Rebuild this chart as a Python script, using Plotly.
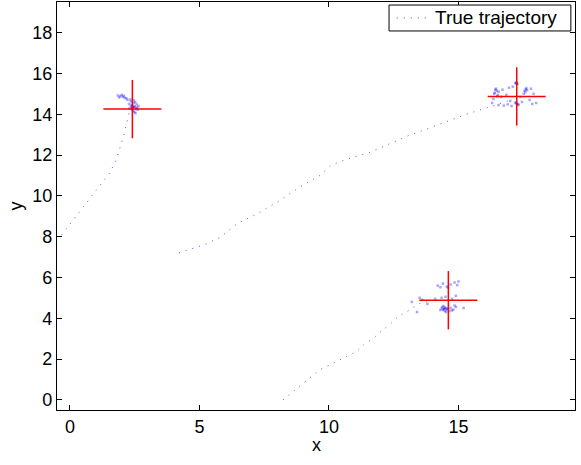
import plotly.graph_objects as go

# True trajectories (data coordinates)
traj1_x = [-0.32, 0.19, 0.69, 1.15, 1.54, 1.77, 1.92, 2.08, 2.19, 2.31, 2.40]
traj1_y = [8.09, 8.92, 9.76, 10.49, 11.13, 11.72, 12.31, 12.94, 13.58, 14.17, 14.35]

traj2_x = [4.21, 5.15, 5.78, 6.48, 7.22, 8.10, 8.94, 9.62, 10.10, 10.83, 11.58, 12.35, 13.09, 13.83, 14.60, 15.33, 16.34, 16.90]
traj2_y = [7.20, 7.59, 7.95, 8.65, 9.11, 9.77, 10.48, 10.97, 11.52, 11.85, 12.13, 12.57, 12.96, 13.30, 13.68, 14.01, 14.41, 14.65]

traj3_x = [8.23, 8.68, 9.00, 9.32, 9.64, 10.00, 10.35, 10.74, 11.08, 11.38, 11.70, 11.96, 12.31, 12.67, 12.97, 13.25, 13.50, 13.90]
traj3_y = [0.00, 0.46, 0.81, 1.14, 1.47, 1.68, 1.92, 2.17, 2.37, 2.74, 2.99, 3.31, 3.64, 4.08, 4.29, 4.53, 4.72, 4.90]

# Estimated positions (red crosses) and their half extents
est_x = [2.41, 17.25, 14.61]
est_y = [14.25, 14.87, 4.88]
half_x = [1.12, 1.12, 1.12]
half_y = [1.43, 1.43, 1.43]

# Particle clouds
c1x = [2.45, 2.40, 2.50, 2.38, 2.55, 2.42, 2.47, 2.35, 2.60, 2.52, 2.30, 2.44, 2.58, 2.36, 2.49, 2.41, 2.65, 2.28,
       2.53, 2.46, 2.39, 2.56, 2.43, 2.33, 2.62, 2.48, 1.85, 1.95, 2.05, 2.12, 1.90, 2.00, 2.18, 2.08, 2.22]
c1y = [14.35, 14.30, 14.40, 14.45, 14.25, 14.20, 14.55, 14.38, 14.32, 14.60, 14.28, 14.15, 14.48, 14.62, 14.10, 14.42,
       14.40, 14.50, 14.05, 14.68, 14.25, 14.30, 14.36, 14.72, 14.22, 14.34, 14.92, 14.88, 14.85, 14.80, 14.82, 14.95,
       14.78, 14.90, 14.70]

c2x = [16.40, 16.48, 16.52, 16.45, 16.38, 16.55, 16.50, 16.42, 17.22, 17.26, 17.24, 17.28, 17.20, 17.24, 17.30, 17.20,
       17.27, 17.22, 17.32, 17.55, 17.60, 17.58, 17.62, 17.52, 17.65, 16.30, 16.55, 16.75, 16.90, 17.05, 16.65, 16.85,
       17.45, 17.75, 17.85, 18.00, 17.90, 16.95, 17.10, 17.40, 16.70, 17.80, 16.35, 17.00]
c2y = [15.05, 15.15, 14.95, 15.25, 15.00, 15.10, 14.88, 15.20, 15.52, 15.50, 15.55, 15.48, 15.53, 14.52, 14.50, 14.55,
       14.48, 14.58, 14.45, 15.15, 15.22, 15.08, 15.28, 15.00, 15.18, 14.55, 14.45, 14.42, 14.48, 14.40, 14.85, 14.95,
       14.60, 14.70, 14.50, 14.55, 15.00, 15.30, 15.35, 14.85, 15.20, 15.25, 14.75, 14.65]

c3x = [14.45, 14.40, 14.50, 14.38, 14.55, 14.48, 14.35, 14.60, 14.42, 14.52, 14.70, 14.80, 14.90, 14.75, 14.85, 14.65,
       14.30, 14.47, 14.44, 14.58, 14.20, 14.40, 14.55, 14.70, 14.85, 14.60, 14.30, 14.95, 14.35, 14.50, 14.75, 14.90,
       13.20, 13.40, 13.60, 13.80, 13.50, 15.20, 15.00, 14.10]
c3y = [4.46, 4.40, 4.50, 4.55, 4.42, 4.35, 4.48, 4.45, 4.60, 4.30, 4.50, 4.42, 4.55, 4.38, 4.62, 4.35, 4.40, 4.52,
       4.44, 4.48, 5.60, 5.70, 5.55, 5.65, 5.75, 5.50, 5.52, 5.62, 5.00, 5.05, 4.95, 5.10, 4.80, 4.30, 4.90, 4.70,
       5.00, 4.50, 5.80, 4.95]

x_ticks = [0, 5, 10, 15]
y_ticks = [0, 2, 4, 6, 8, 10, 12, 14, 16, 18]
legend_label = "True trajectory"
x_title = "x"
y_title = "y"

FONT = "Liberation Sans, Arial, sans-serif"
LINE_COLOR = "rgba(50,50,255,0.85)"
LINE_DASH = "1px,6px"

fig = go.Figure()

# particles
for cx, cy in [(c1x, c1y), (c2x, c2y), (c3x, c3y)]:
    fig.add_trace(go.Scatter(x=cx, y=cy, mode="markers", showlegend=False, hoverinfo="skip",
                             marker=dict(symbol="square", size=2.5, color="rgba(0,0,255,0.35)",
                                         line=dict(width=0))))

# trajectories
for tx, ty in [(traj1_x, traj1_y), (traj2_x, traj2_y), (traj3_x, traj3_y)]:
    fig.add_trace(go.Scatter(x=tx, y=ty, mode="lines", name=legend_label, showlegend=False,
                             line=dict(color=LINE_COLOR, width=1, dash=LINE_DASH)))

# red crosses
xs, ys = [], []
for ex, ey, hx, hy in zip(est_x, est_y, half_x, half_y):
    xs += [ex - hx, ex + hx, None, ex, ex, None]
    ys += [ey, ey, None, ey - hy, ey + hy, None]
fig.add_trace(go.Scatter(x=xs, y=ys, mode="lines", showlegend=False, hoverinfo="skip",
                         line=dict(color="red", width=1.5)))

# legend box (MATLAB style)
fig.add_shape(type="rect", xref="paper", yref="paper", x0=0.641, x1=0.992, y0=0.929, y1=0.9926,
              line=dict(color="black", width=1), fillcolor="white", layer="above")
fig.add_shape(type="line", xref="paper", yref="paper", x0=0.656, x1=0.712, y0=0.961, y1=0.961,
              line=dict(color=LINE_COLOR, width=1, dash=LINE_DASH), layer="above")
fig.add_annotation(xref="paper", yref="paper", x=0.726, y=0.961, xanchor="left", yanchor="middle",
                   text=legend_label, showarrow=False, font=dict(family=FONT, size=19, color="black"))

# x axis title placed like MATLAB
fig.add_annotation(xref="paper", yref="paper", x=0.5, y=-0.058, xanchor="center", yanchor="top",
                   borderpad=0, text=x_title, showarrow=False,
                   font=dict(family=FONT, size=18, color="black"))

axis_common = dict(showgrid=False, zeroline=False, showline=True, linecolor="black", linewidth=1.2,
                   mirror="allticks", ticks="inside", ticklen=5, tickcolor="black", tickwidth=1,
                   tickfont=dict(family=FONT, size=18, color="black"))

fig.update_layout(
    width=581, height=465,
    margin=dict(l=57, r=6, t=2, b=55),
    paper_bgcolor="white", plot_bgcolor="white",
    font=dict(family=FONT, size=18, color="black"),
    showlegend=False,
    xaxis=dict(range=[-0.5, 19.5], tickvals=x_ticks, ticktext=[str(v) for v in x_ticks], **axis_common),
    yaxis=dict(range=[-0.5, 19.5], tickvals=y_ticks, ticktext=[str(v) for v in y_ticks],
               title=dict(text=y_title, font=dict(family=FONT, size=18), standoff=4), **axis_common),
)

fig.write_html("out.html")
